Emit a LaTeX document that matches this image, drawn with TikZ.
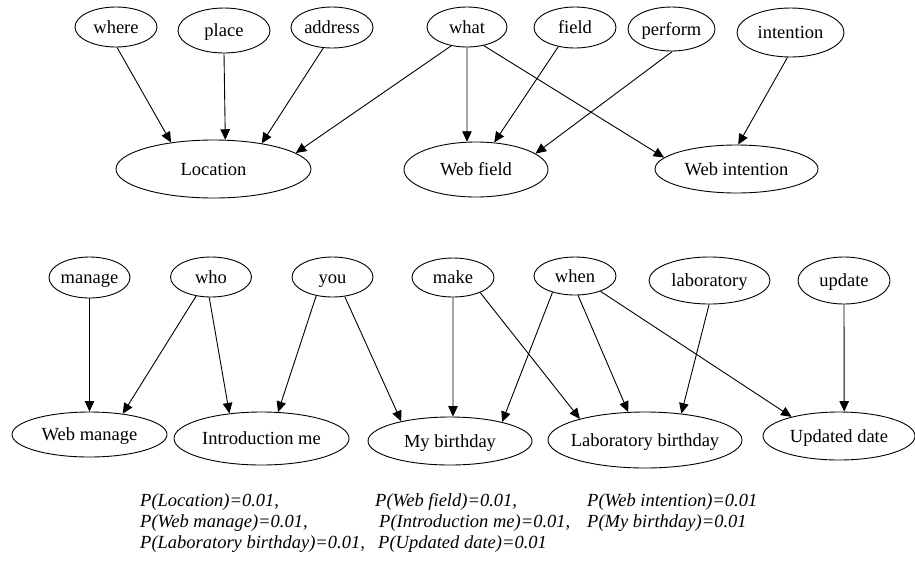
\documentclass[tikz,border=0pt]{standalone}
\usepackage{fontspec}
\setmainfont{Liberation Serif}
\usetikzlibrary{shapes.geometric,arrows.meta}
\begin{document}
\begin{tikzpicture}[x=1pt,y=-1pt,
  nd/.style={ellipse, draw, line width=0.9pt, inner sep=0pt,
    text height=12.2pt, text depth=0pt,
    font=\fontsize{18.5}{22}\selectfont},
  sz/.style 2 args={minimum width=#1pt, minimum height=#2pt},
  edge/.style={line width=0.9pt, -{Triangle[length=10.5pt,width=9.5pt]}},
  prob/.style={anchor=base west, inner sep=0pt,
    font=\fontsize{18.5}{22}\selectfont\itshape}]
\useasboundingbox (0,0) rectangle (915,566);

% upper group: cue words
\node[nd, sz={82}{40}] (where)     at (116,27)    {\makebox[0pt]{where}};
\node[nd, sz={92}{45}] (place)     at (224,30.5)  {\makebox[0pt]{place}};
\node[nd, sz={82}{41}] (address)   at (332,27.5)  {\makebox[0pt]{address}};
\node[nd, sz={80}{40}] (what)      at (467,27)    {\makebox[0pt]{what}};
\node[nd, sz={82}{41}] (field)     at (575,27.5)  {\makebox[0pt]{field}};
\node[nd, sz={87}{44}] (perform)   at (671.5,29)  {\makebox[0pt]{perform}};
\node[nd, sz={107}{49}] (intention) at (790.5,32.5) {\makebox[0pt]{intention}};

% upper group: topics
\node[nd, sz={195}{58}] (location)  at (213.5,169) {\makebox[0pt]{Location}};
\node[nd, sz={144}{55}] (webfield)  at (476,169.5) {\makebox[0pt]{Web field}};
\node[nd, sz={163}{48}] (webint)    at (736.5,169) {\makebox[0pt]{Web intention}};

% lower group: cue words
\node[nd, sz={81}{41}]  (manage)  at (89.5,277.5) {\makebox[0pt]{manage}};
\node[nd, sz={81}{40}]  (who)     at (211,277)    {\makebox[0pt]{who}};
\node[nd, sz={81}{40}]  (you)     at (332.5,277)  {\makebox[0pt]{you}};
\node[nd, sz={82}{39}]  (make)    at (453,277.5)  {\makebox[0pt]{make}};
\node[nd, sz={82}{38}]  (when)    at (575,276)    {\makebox[0pt]{when}};
\node[nd, sz={121}{47}] (lab)     at (709.5,280.5) {\makebox[0pt]{laboratory}};
\node[nd, sz={92}{47}]  (update)  at (844,280.5)  {\makebox[0pt]{update}};

% lower group: topics
\node[nd, sz={155}{45}] (webman)  at (89.5,434.5) {\makebox[0pt]{Web manage}};
\node[nd, sz={175}{53}] (intro)   at (261.5,438.5) {\makebox[0pt]{Introduction me}};
\node[nd, sz={164}{48}] (mybday)  at (450,441)    {\makebox[0pt]{My birthday}};
\node[nd, sz={194}{56}] (labbday) at (645,440)    {\makebox[0pt]{Laboratory birthday}};
\node[nd, sz={152}{48}] (updated) at (839,436)    {\makebox[0pt]{Updated date}};

% upper connectors
\draw[edge] (where.-87.5)   -- (location.148.2);
\draw[edge] (place.-90)     -- (location.68.7);
\draw[edge] (address.-113.7) -- (location.28.6);
\draw[edge] (what.-130.4)   -- (location.11);
\draw[edge] (what.-90)      -- (webfield.108.1);
\draw[edge] (field.-131.1)  -- (webfield.56.8);
\draw[edge] (perform.-88.7) -- (webfield.15.8);
\draw[edge] (what.-48)      -- (webint.171);
\draw[edge] (intention.-97.8) -- (webint.86.8);

% lower connectors
\draw[edge] (manage.-90)    -- (webman.90);
\draw[edge] (who.-128.7)    -- (webman.32.5);
\draw[edge] (who.-95.7)     -- (intro.142.8);
\draw[edge] (you.-131.2)    -- (intro.58.4);
\draw[edge] (you.-58)       -- (mybday.158);
\draw[edge] (make.-90)      -- (mybday.83.4);
\draw[edge] (make.-29.9)    -- (labbday.162.3);
\draw[edge] (when.-144.9)   -- (mybday.20);
\draw[edge] (when.-81)      -- (labbday.121.3);
\draw[edge] (when.-31.3)    -- (updated.158.8);
\draw[edge] (lab.-91)       -- (labbday.36.4);
\draw[edge] (update.-90)    -- (updated.78);

% prior probabilities
\node[prob] (p1) at (140,506) {P(Location)=0.01,};
\node[prob] (p2) at (375,506) {P(Web field)=0.01,};
\node[prob] (p3) at (587,506) {P(Web intention)=0.01};
\node[prob] (p4) at (140,527) {P(Web manage)=0.01,};
\node[prob] (p5) at (379,527) {P(Introduction me)=0.01,};
\node[prob] (p6) at (587,527) {P(My birthday)=0.01};
\node[prob] (p7) at (140,548) {P(Laboratory birthday)=0.01,};
\node[prob] (p8) at (378,548) {P(Updated date)=0.01};
\end{tikzpicture}
\end{document}
